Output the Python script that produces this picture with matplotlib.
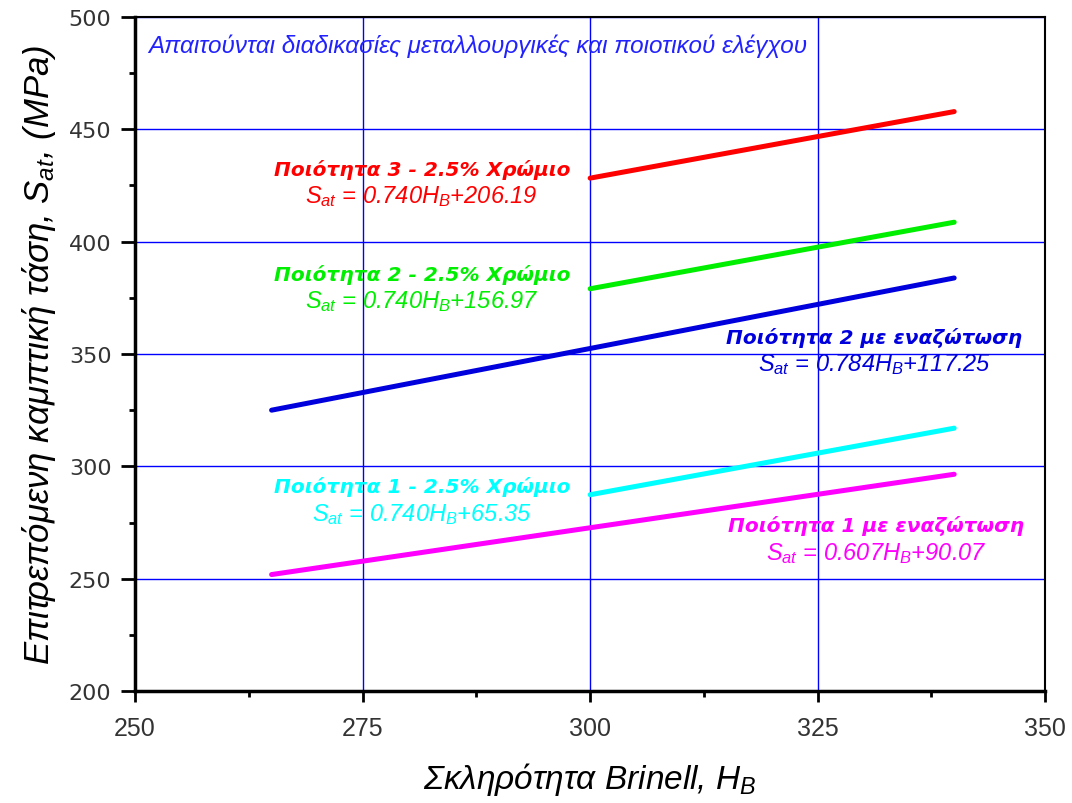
import matplotlib.pyplot as plt
from matplotlib.ticker import MultipleLocator

# line end points (Brinell hardness, allowable stress MPa)
hb_q3 = [300, 340]
sat_q3 = [428.2, 457.8]
hb_q2 = [300, 340]
sat_q2 = [379.0, 408.6]
hb_q2n = [265, 340]
sat_q2n = [325.0, 383.8]
hb_q1 = [300, 340]
sat_q1 = [287.4, 317.0]
hb_q1n = [265, 340]
sat_q1n = [251.9, 296.5]

titles = ["Ποιότητα 3 - 2.5% Χρώμιο", "Ποιότητα 2 - 2.5% Χρώμιο",
          "Ποιότητα 2 με εναζώτωση", "Ποιότητα 1 - 2.5% Χρώμιο",
          "Ποιότητα 1 με εναζώτωση"]
equations = [r"$S_{at}$ = 0.740$H_B$+206.19", r"$S_{at}$ = 0.740$H_B$+156.97",
             r"$S_{at}$ = 0.784$H_B$+117.25", r"$S_{at}$ = 0.740$H_B$+65.35",
             r"$S_{at}$ = 0.607$H_B$+90.07"]
colors = ["#ff0000", "#00ee00", "#0000dd", "#00ffff", "#ff00ff"]

plt.rcParams['font.family'] = ['Liberation Sans', 'DejaVu Sans']
plt.rcParams['mathtext.fontset'] = 'custom'
plt.rcParams['mathtext.it'] = 'Liberation Sans:italic'
plt.rcParams['mathtext.rm'] = 'Liberation Sans:italic'

my_dpi = 100
fig = plt.figure(figsize=(1072/my_dpi, 804/my_dpi), dpi=my_dpi)
ax1 = fig.add_axes([0.126, 0.139, 0.849, 0.839])

series = [(hb_q3, sat_q3), (hb_q2, sat_q2), (hb_q2n, sat_q2n), (hb_q1, sat_q1), (hb_q1n, sat_q1n)]
for (xs, ys), c in zip(series, colors):
    ax1.plot(xs, ys, color=c, lw=3.6, solid_capstyle='round', zorder=3)

# label positions (data coords)
lab_x = [281.5, 281.5, 331.2, 281.5, 331.4]
lab_y = [432.3, 385.6, 357.6, 291.2, 273.9]
for t, eq, c, x, y in zip(titles, equations, colors, lab_x, lab_y):
    ax1.text(x, y, t, color=c, fontsize=14.5, fontweight='bold', fontstyle='oblique',
             family=['DejaVu Sans'], ha='center', va='center', zorder=4)
    ax1.text(x, y - 12, eq, color=c, fontsize=17, fontstyle='italic',
             ha='center', va='center', zorder=4)

ax1.text(287.6, 487.1, "Απαιτούνται διαδικασίες μεταλλουργικές και ποιοτικού ελέγχου",
         color='#2222ff', fontsize=17.5, fontstyle='italic', ha='center', va='center')

ax1.set_xlim(250, 350)
ax1.set_ylim(200, 500)
ax1.xaxis.set_major_locator(MultipleLocator(25))
ax1.xaxis.set_minor_locator(MultipleLocator(12.5))
ax1.yaxis.set_major_locator(MultipleLocator(50))
ax1.yaxis.set_minor_locator(MultipleLocator(25))
ax1.grid(True, which='major', color='#0000ff', lw=1.0)
ax1.tick_params(axis='y', which='major', direction='out', length=10, width=2, pad=7)
ax1.tick_params(axis='x', which='major', direction='out', length=8, width=2, pad=10)
ax1.tick_params(which='minor', direction='out', length=4, width=2)
for lbl in ax1.get_xticklabels():
    lbl.set_fontsize(18)
    lbl.set_color('#333333')
for lbl in ax1.get_yticklabels():
    lbl.set_family(['DejaVu Sans'])
    lbl.set_fontsize(16)
    lbl.set_color('#333333')

ax1.spines['left'].set_linewidth(2.5)
ax1.spines['bottom'].set_linewidth(2.5)
ax1.spines['top'].set_linewidth(1.5)
ax1.spines['right'].set_linewidth(1.5)

ax1.set_xlabel(r"Σκληρότητα Brinell, $H_B$", fontsize=24, fontstyle='italic', labelpad=14)
ax1.set_ylabel(r"Επιτρεπόμενη καμπτική τάση, $S_{at}$, (MPa)", fontsize=25,
               fontstyle='italic', labelpad=8)

fig.savefig("out.png", dpi=my_dpi)
